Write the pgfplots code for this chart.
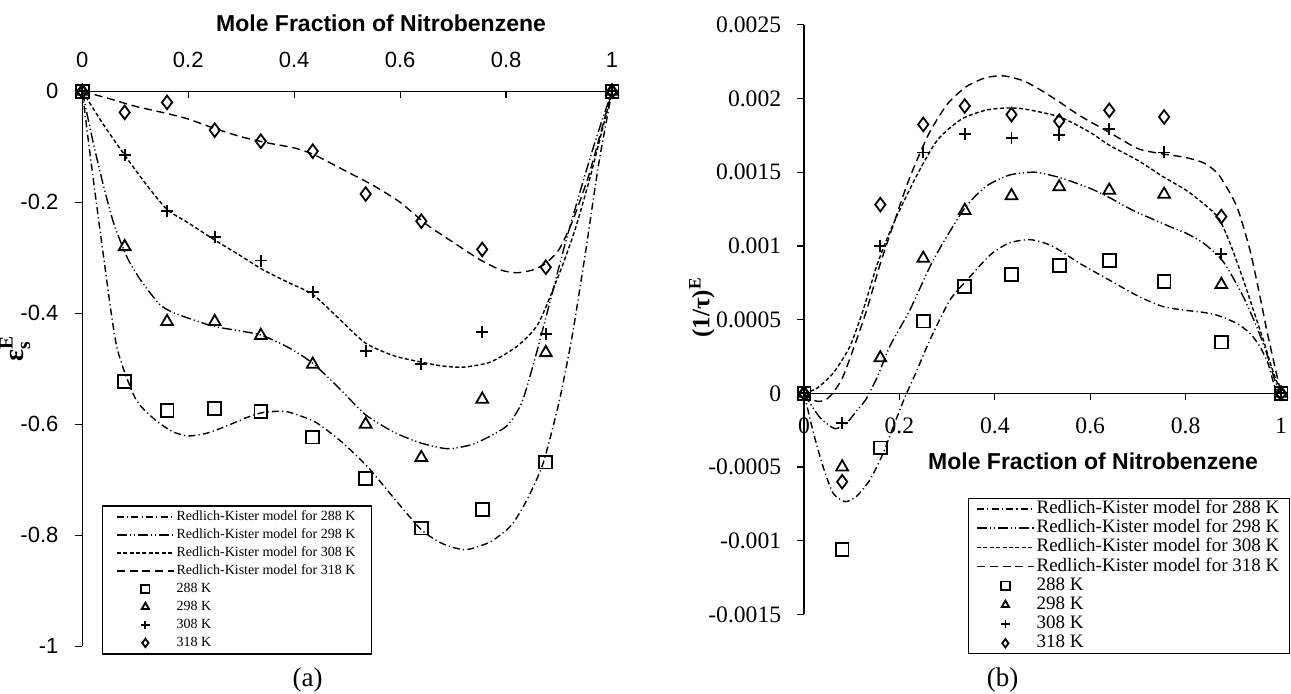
\documentclass[border=0pt]{standalone}
\usepackage{fontspec}
\setmainfont{Liberation Serif}
\newfontfamily\arial{Liberation Sans}
\usepackage{amsmath}
\usepackage{pgfplots}
\pgfplotsset{compat=1.18}

\pgfplotsset{
  rk288/.style={black, line width=0.7pt, smooth, tension=0.4, dash pattern=on 3.5pt off 1.6pt on 0.6pt off 1.6pt},
  rk298/.style={black, line width=0.7pt, smooth, tension=0.4, dash pattern=on 5pt off 1.5pt on 0.6pt off 1.4pt on 0.6pt off 1.5pt},
  rk308/.style={black, line width=0.7pt, smooth, tension=0.4, dash pattern=on 2pt off 1.2pt},
  rk318/.style={black, line width=0.7pt, smooth, tension=0.4, dash pattern=on 4pt off 2.4pt},
  m288/.style={black, only marks, mark=square, mark size=3.2pt, mark options={solid, line width=0.9pt}},
  m298/.style={black, only marks, mark=triangle, mark size=3.4pt, mark options={solid, line width=0.9pt}},
  m308/.style={black, only marks, mark=+, mark size=3pt, mark options={solid, line width=0.9pt}},
  m318/.style={black, only marks, mark=diamond, mark size=3.4pt, mark options={solid, line width=0.9pt}},
  linelegend/.style={legend image code/.code={\draw[##1] (0pt,0pt) -- (28.5pt,0pt);}},
  marklegend/.style={legend image code/.code={\draw[##1, mark size=2.1pt] plot coordinates {(14.25pt,0pt)};}},
}

\begin{document}
\begin{tikzpicture}
\path[use as bounding box] (0pt,0pt) rectangle (645.5pt,346.5pt);

% ---------- panel (a) ----------
\begin{axis}[
  at={(41.15pt,300.85pt)}, anchor=north west,
  scale only axis, width=264.85pt, height=277.5pt,
  xmin=0, xmax=1, ymin=-1, ymax=0,
  axis x line=top, axis y line=left,
  axis line style={-, line width=0.6pt},
  clip=false,
  tick align=center, major tick length=3.5pt,
  tick style={black, line width=0.6pt},
  x tick style={yshift=-1.75pt},
  y tick style={xshift=-1.75pt},
  xtick={0,0.2,0.4,0.6,0.8,1}, xticklabels={0,0.2,0.4,0.6,0.8,1},
  ytick={-1,-0.8,-0.6,-0.4,-0.2,0}, yticklabels={-1,-0.8,-0.6,-0.4,-0.2,0},
  tick label style={font=\arial\fontsize{11}{12}\selectfont},
  xticklabel style={anchor=center, yshift=14pt},
  yticklabel style={anchor=east, inner sep=0pt, xshift=-10pt},
  xlabel={\arial\bfseries\fontsize{11.5}{13}\selectfont Mole Fraction of Nitrobenzene},
  xlabel style={at={(axis description cs:0.564,1)}, anchor=center, yshift=34pt},
  ylabel={\fontsize{14}{15}\selectfont$\text{\bfseries ε}_{\text{\bfseries s}}^{\text{\bfseries E}}$},
  ylabel style={at={(axis description cs:-0.127,0.537)}, anchor=center},
  legend style={at={(axis description cs:0.0364,0.254)}, anchor=north west,
    draw=black, line width=0.6pt, font=\fontsize{7}{8}\selectfont,
    inner xsep=7pt, inner ysep=1pt, row sep=0pt,
    nodes={inner ysep=0.2pt, inner xsep=1pt, text height=6pt, text depth=2.6pt},
    /tikz/every even column/.append style={column sep=2.5pt}},
  legend cell align=left,
]
\addplot[rk288, linelegend] coordinates {(0,0) (0.015,-0.116) (0.04,-0.297) (0.065,-0.46) (0.1,-0.553) (0.135,-0.59) (0.17,-0.613) (0.2,-0.621) (0.235,-0.616) (0.27,-0.604) (0.31,-0.588) (0.34,-0.579) (0.385,-0.577) (0.44,-0.596) (0.49,-0.632) (0.54,-0.678) (0.59,-0.735) (0.64,-0.79) (0.68,-0.815) (0.723,-0.826) (0.77,-0.812) (0.81,-0.782) (0.84,-0.735) (0.87,-0.67) (0.9,-0.56) (0.925,-0.44) (0.95,-0.29) (0.975,-0.13) (1,0)};
\addlegendentry{Redlich-Kister model for 288 K}
\addplot[rk298, linelegend] coordinates {(0,0) (0.02,-0.09) (0.04,-0.17) (0.06,-0.24) (0.085,-0.3) (0.11,-0.34) (0.145,-0.383) (0.17,-0.398) (0.21,-0.412) (0.25,-0.424) (0.3,-0.432) (0.34,-0.44) (0.39,-0.462) (0.435,-0.49) (0.485,-0.535) (0.535,-0.583) (0.59,-0.615) (0.64,-0.634) (0.69,-0.644) (0.74,-0.635) (0.8,-0.604) (0.83,-0.56) (0.855,-0.48) (0.88,-0.39) (0.91,-0.28) (0.94,-0.18) (0.97,-0.085) (1,0)};
\addlegendentry{Redlich-Kister model for 298 K}
\addplot[rk308, linelegend] coordinates {(0,0) (0.04,-0.06) (0.08,-0.115) (0.12,-0.167) (0.16,-0.213) (0.2,-0.237) (0.25,-0.268) (0.3,-0.297) (0.34,-0.321) (0.39,-0.345) (0.435,-0.366) (0.485,-0.41) (0.535,-0.454) (0.59,-0.477) (0.64,-0.488) (0.68,-0.495) (0.72,-0.497) (0.77,-0.488) (0.82,-0.46) (0.86,-0.42) (0.9,-0.33) (0.93,-0.25) (0.96,-0.15) (1,0)};
\addlegendentry{Redlich-Kister model for 308 K}
\addplot[rk318, linelegend] coordinates {(0,0) (0.05,-0.013) (0.1,-0.027) (0.16,-0.04) (0.2,-0.05) (0.25,-0.067) (0.3,-0.082) (0.35,-0.093) (0.4,-0.102) (0.435,-0.113) (0.47,-0.13) (0.5,-0.145) (0.55,-0.17) (0.6,-0.2) (0.65,-0.24) (0.7,-0.272) (0.75,-0.303) (0.79,-0.322) (0.82,-0.327) (0.85,-0.322) (0.875,-0.31) (0.9,-0.285) (0.925,-0.235) (0.955,-0.155) (0.98,-0.07) (1,0)};
\addlegendentry{Redlich-Kister model for 318 K}
\addplot[m288, marklegend] coordinates {(0,0) (0.08,-0.523) (0.16,-0.575) (0.25,-0.572) (0.337,-0.577) (0.435,-0.623) (0.535,-0.698) (0.64,-0.787) (0.755,-0.753) (0.875,-0.668) (1,0)};
\addlegendentry{288 K}
\addplot[m298, marklegend] coordinates {(0,0) (0.08,-0.28) (0.16,-0.415) (0.25,-0.415) (0.337,-0.44) (0.435,-0.492) (0.535,-0.6) (0.64,-0.66) (0.755,-0.555) (0.875,-0.471) (1,0)};
\addlegendentry{298 K}
\addplot[m308, marklegend] coordinates {(0,0) (0.08,-0.115) (0.16,-0.216) (0.25,-0.263) (0.337,-0.305) (0.435,-0.362) (0.535,-0.468) (0.64,-0.492) (0.755,-0.433) (0.875,-0.438) (1,0)};
\addlegendentry{308 K}
\addplot[m318, marklegend] coordinates {(0,0) (0.08,-0.038) (0.16,-0.02) (0.25,-0.07) (0.337,-0.09) (0.435,-0.108) (0.535,-0.185) (0.64,-0.234) (0.755,-0.285) (0.875,-0.317) (1,0)};
\addlegendentry{318 K}
\end{axis}

% ---------- panel (b) ----------
\begin{axis}[
  at={(402pt,334.1pt)}, anchor=north west,
  scale only axis, width=238.5pt, height=294.8pt,
  xmin=0, xmax=1, ymin=-0.0015, ymax=0.0025,
  axis x line=middle, axis y line=left,
  axis line style={-, line width=0.6pt},
  hide obscured x ticks=false, hide obscured y ticks=false,
  clip=false,
  tick align=center, major tick length=3.5pt,
  tick style={black, line width=0.6pt},
  x tick style={yshift=-1.75pt},
  y tick style={xshift=-1.75pt},
  xtick={0,0.2,0.4,0.6,0.8,1}, xticklabels={0,0.2,0.4,0.6,0.8,1},
  ytick={-0.0015,-0.001,-0.0005,0,0.0005,0.001,0.0015,0.002,0.0025},
  yticklabels={-0.0015,-0.001,-0.0005,0,0.0005,0.001,0.0015,0.002,0.0025},
  scaled y ticks=false,
  tick label style={font=\fontsize{11.8}{13}\selectfont},
  xticklabel style={anchor=center, yshift=-14.7pt},
  yticklabel style={anchor=east, inner sep=0pt, xshift=-9.5pt},
  xlabel={\arial\bfseries\fontsize{11.5}{13}\selectfont Mole Fraction of Nitrobenzene},
  xlabel style={at={(axis cs:0.606,-0.000464)}, anchor=center},
  ylabel={\bfseries\fontsize{12.5}{14}\selectfont (1/τ)\textsuperscript{E}},
  ylabel style={at={(axis description cs:-0.214,0.521)}, anchor=center},
  legend style={at={(axis description cs:0.343,0.198)}, anchor=north west,
    draw=black, line width=0.6pt, font=\fontsize{9.5}{10}\selectfont,
    inner xsep=4pt, inner ysep=0.5pt, row sep=0pt,
    nodes={inner ysep=0.15pt, inner xsep=1pt, text height=7pt, text depth=2.3pt},
    /tikz/every even column/.append style={column sep=2.5pt}},
  legend cell align=left,
]
\addplot[rk288, linelegend] coordinates {(0,0) (0.02,-0.000271) (0.04,-0.000498) (0.061,-0.000678) (0.086,-0.000735) (0.11,-0.0007) (0.138,-0.000588) (0.166,-0.000407) (0.187,-0.000227) (0.212,-0.000023) (0.236,0.00015) (0.264,0.000362) (0.306,0.000633) (0.348,0.000791) (0.39,0.000938) (0.43,0.00102) (0.475,0.001042) (0.52,0.001) (0.579,0.00088) (0.639,0.00077) (0.7,0.00066) (0.751,0.00059) (0.795,0.000565) (0.835,0.00055) (0.865,0.000531) (0.907,0.000475) (0.935,0.000407) (0.956,0.000316) (0.973,0.0002) (0.987,0.000045) (1,0)};
\addlegendentry{Redlich-Kister model for 288 K}
\addplot[rk298, linelegend] coordinates {(0,0) (0.015,-0.00008) (0.035,-0.00017) (0.065,-0.00024) (0.09,-0.0002) (0.11,-0.00012) (0.13,-0.00004) (0.155,0.00012) (0.18,0.00032) (0.222,0.000565) (0.271,0.000904) (0.334,0.001243) (0.38,0.0014) (0.43,0.00148) (0.484,0.0015) (0.54,0.00146) (0.6,0.00139) (0.639,0.00133) (0.69,0.00124) (0.725,0.00119) (0.775,0.00112) (0.802,0.001085) (0.837,0.00102) (0.869,0.00093) (0.886,0.00086) (0.921,0.000655) (0.949,0.000452) (0.97,0.00027) (0.987,0.00009) (1,0)};
\addlegendentry{Redlich-Kister model for 298 K}
\addplot[rk308, linelegend] coordinates {(0,0) (0.027,0.000034) (0.061,0.000136) (0.096,0.000316) (0.124,0.000565) (0.152,0.00086) (0.173,0.00104) (0.2,0.00124) (0.24,0.0015) (0.28,0.00172) (0.33,0.00186) (0.38,0.00192) (0.42,0.001935) (0.46,0.00193) (0.536,0.001875) (0.6,0.00177) (0.639,0.001685) (0.7,0.00158) (0.751,0.001473) (0.8,0.00138) (0.84,0.00128) (0.869,0.00119) (0.893,0.00102) (0.921,0.00077) (0.942,0.000565) (0.963,0.000362) (0.98,0.00018) (1,0)};
\addlegendentry{Redlich-Kister model for 308 K}
\addplot[rk318, linelegend] coordinates {(0,0) (0.015,-0.00004) (0.03,-0.000055) (0.045,-0.000045) (0.06,0) (0.08,0.0001) (0.1,0.00027) (0.13,0.00055) (0.16,0.00088) (0.19,0.00117) (0.22,0.00145) (0.26,0.00175) (0.3,0.00196) (0.34,0.00208) (0.38,0.00214) (0.417,0.002154) (0.46,0.00212) (0.5,0.00205) (0.536,0.001975) (0.58,0.00188) (0.64,0.00177) (0.7,0.00166) (0.75,0.001625) (0.8,0.0016) (0.84,0.00156) (0.87,0.00148) (0.907,0.00127) (0.935,0.00097) (0.956,0.000655) (0.97,0.00043) (0.984,0.000226) (1,0)};
\addlegendentry{Redlich-Kister model for 318 K}
\addplot[m288, marklegend] coordinates {(0,0) (0.08,-0.00106) (0.16,-0.00037) (0.25,0.00049) (0.337,0.000725) (0.435,0.000808) (0.535,0.000866) (0.64,0.0009) (0.755,0.000759) (0.875,0.000347) (1,0)};
\addlegendentry{288 K}
\addplot[m298, marklegend] coordinates {(0,0) (0.08,-0.0005) (0.16,0.00024) (0.25,0.000915) (0.337,0.00124) (0.435,0.00134) (0.535,0.0014) (0.64,0.001377) (0.755,0.00135) (0.875,0.000737) (1,0)};
\addlegendentry{298 K}
\addplot[m308, marklegend] coordinates {(0,0) (0.08,-0.0002) (0.16,0.001) (0.25,0.001634) (0.337,0.001759) (0.435,0.001734) (0.535,0.001752) (0.64,0.001792) (0.755,0.001634) (0.875,0.000944) (1,0)};
\addlegendentry{308 K}
\addplot[m318, marklegend] coordinates {(0,0) (0.08,-0.0006) (0.16,0.00128) (0.25,0.001824) (0.337,0.001949) (0.435,0.001891) (0.535,0.001846) (0.64,0.00192) (0.755,0.001875) (0.875,0.001199) (1,0)};
\addlegendentry{318 K}
\end{axis}

\node[font=\fontsize{13.5}{15}\selectfont] at (153.85pt,6.5pt) {(a)};
\node[font=\fontsize{13.5}{15}\selectfont] at (501.35pt,6.5pt) {(b)};
\end{tikzpicture}
\end{document}
